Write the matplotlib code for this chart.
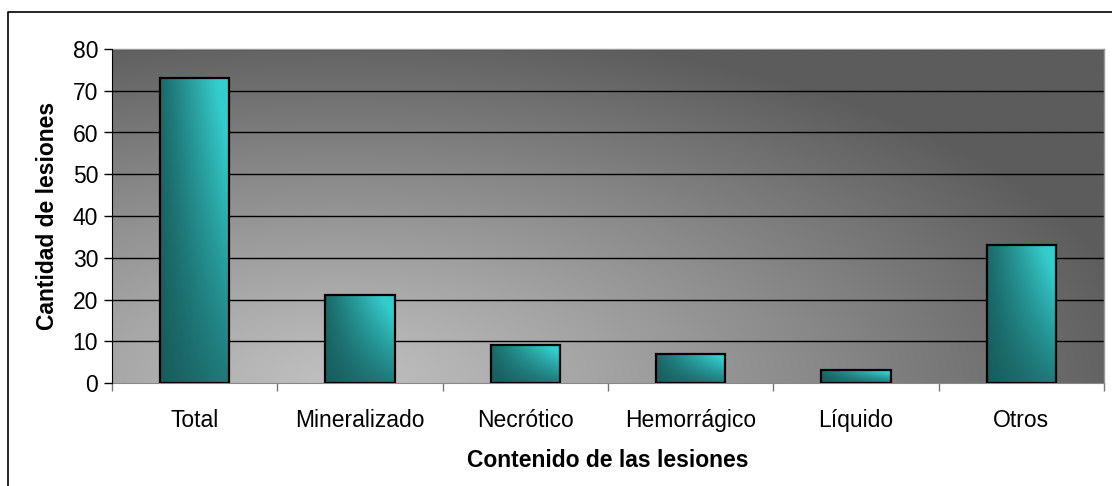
import numpy as np
import matplotlib
matplotlib.use("Agg")
import matplotlib.pyplot as plt
from matplotlib.lines import Line2D

categories = ["Total", "Mineralizado", "Necrótico", "Hemorrágico", "Líquido", "Otros"]
values = [73, 21, 9, 7, 3, 33]
yticks = [0, 10, 20, 30, 40, 50, 60, 70, 80]
xlabel = "Contenido de las lesiones"
ylabel = "Cantidad de lesiones"

plt.rcParams['font.family'] = ['Liberation Sans', 'DejaVu Sans']

W, H = 1112, 486
fig = plt.figure(figsize=(W / 100, H / 100), dpi=100)
L, R, T, B = 112, 1104, 49, 383
ax = fig.add_axes([L / W, 1 - B / H, (R - L) / W, (B - T) / H])

n = len(categories)
ax.set_xlim(0, n)
ax.set_ylim(0, 80)

# background gradient (elliptical, light near lower-left-center)
gx = np.linspace(0, 1, 400)
gy = np.linspace(0, 1, 200)
X, Y = np.meshgrid(gx, gy)
pxw = (R - L)
pxh = (B - T)
dx = (X - 0.23) * pxw / 820
dy = (Y - 0.0) * pxh / 360
d = np.clip(np.sqrt(dx ** 2 + dy ** 2), 0, 1)
light, dark = 192, 92
val = (light - (light - dark) * d ** 1.1) / 255.0
bg = np.dstack([val, val, val])
ax.imshow(bg, extent=[0, n, 0, 80], origin='lower', aspect='auto', zorder=0,
          interpolation='bilinear')

# grid lines
for yv in yticks[1:]:
    ax.axhline(yv, color='black', lw=1.0, zorder=1)

# bars with gradient
bw = 0.42
dark_c = np.array([24, 92, 92]) / 255.0
bright_c = np.array([52, 205, 205]) / 255.0
bxs = np.linspace(0, 1, 60)
bys = np.linspace(0, 1, 120)
BX, BY = np.meshgrid(bxs, bys)
for i, v in enumerate(values):
    x0 = i + 0.5 - bw / 2
    t = np.clip(BX * (0.35 + 0.75 * BY) + 0.15 * (BY - BX * 0.3), 0, 1)
    t = np.clip(t ** 1.1, 0, 1)
    img = dark_c[None, None, :] + (bright_c - dark_c)[None, None, :] * t[:, :, None]
    ax.imshow(img, extent=[x0, x0 + bw, 0, v], origin='lower', aspect='auto',
              zorder=2, interpolation='bilinear')
    ax.add_patch(plt.Rectangle((x0, 0), bw, v, fill=False, ec='black', lw=1.6, zorder=3))

ax.set_xlim(0, n)
ax.set_ylim(0, 80)

# spines
for s in ['top', 'right']:
    ax.spines[s].set_color('#9a9a9a')
    ax.spines[s].set_linewidth(1.0)
ax.spines['left'].set_color('black')
ax.spines['bottom'].set_color('#888888')
ax.spines['left'].set_zorder(4)

ax.set_yticks(yticks)
ax.set_yticklabels([str(v) for v in yticks], fontsize=16.5)
ax.tick_params(axis='y', direction='out', length=6, width=1, color='black', pad=4)

ax.set_xticks(np.arange(0, n + 1), minor=False)
ax.set_xticklabels([""] * (n + 1))
ax.tick_params(axis='x', direction='out', length=6, width=1, color='#777777')
ax.set_xticks(np.arange(n) + 0.5, minor=True)
ax.set_xticklabels(categories, minor=True, fontsize=16.5)
ax.tick_params(axis='x', which='minor', length=0, pad=19)

ax.set_xlabel(xlabel, fontsize=16.5, fontweight='bold', labelpad=12)
ax.set_ylabel(ylabel, fontsize=16.5, fontweight='bold', labelpad=10)

# outer chart border (extends beyond image on right and bottom)
fig.add_artist(Line2D([8 / W, 8 / W, 1.01], [-0.01, 1 - 12 / H, 1 - 12 / H],
                      transform=fig.transFigure, color='black', lw=1.2))

fig.savefig("out.png", dpi=100)
